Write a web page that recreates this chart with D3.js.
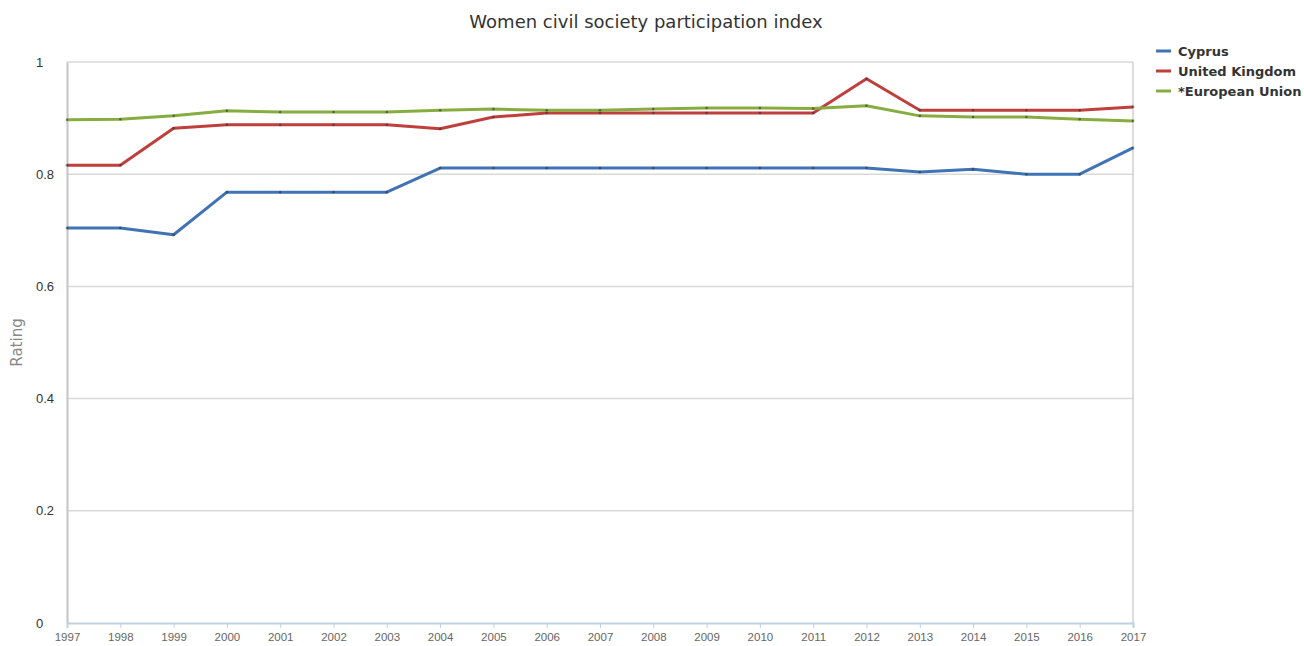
<!DOCTYPE html>
<html>
<head>
<meta charset="utf-8">
<script src="https://cdn.jsdelivr.net/npm/d3@7"></script>
<style>
  body { margin: 0; background: #fff; }
  svg { font-family: "DejaVu Sans", "Open Sans", sans-serif; }
</style>
</head>
<body>
<div id="chart"></div>
<script>
// Data
var years = [1997, 1998, 1999, 2000, 2001, 2002, 2003, 2004, 2005, 2006, 2007,
             2008, 2009, 2010, 2011, 2012, 2013, 2014, 2015, 2016, 2017];
var cyprus = [0.704, 0.704, 0.692, 0.768, 0.768, 0.768, 0.768, 0.811, 0.811, 0.811, 0.811,
              0.811, 0.811, 0.811, 0.811, 0.811, 0.804, 0.809, 0.800, 0.800, 0.847];
var unitedKingdom = [0.816, 0.816, 0.882, 0.888, 0.888, 0.888, 0.888, 0.881, 0.902, 0.909, 0.909,
                     0.909, 0.909, 0.909, 0.909, 0.970, 0.914, 0.914, 0.914, 0.914, 0.920];
var europeanUnion = [0.897, 0.898, 0.904, 0.913, 0.911, 0.911, 0.911, 0.914, 0.916, 0.914, 0.914,
                     0.916, 0.918, 0.918, 0.917, 0.922, 0.904, 0.902, 0.902, 0.898, 0.895];
var yTicks = [0, 0.2, 0.4, 0.6, 0.8, 1];

var seriesList = [
  { name: "Cyprus", values: cyprus, color: "#3f73b5" },
  { name: "United Kingdom", values: unitedKingdom, color: "#bf3f3c" },
  { name: "*European Union", values: europeanUnion, color: "#87ad41" }
];

var svgWidth = 1304;
var svgHeight = 646;
var margin = { top: 62, right: 171, bottom: 23, left: 67 };
var chartWidth = svgWidth - margin.left - margin.right;
var chartHeight = svgHeight - margin.top - margin.bottom;

var svg = d3.select("#chart")
  .append("svg")
  .attr("width", svgWidth)
  .attr("height", svgHeight);

var chartGroup = svg.append("g")
  .attr("transform", `translate(${margin.left}, ${margin.top})`);

var xScale = d3.scaleLinear()
  .domain(d3.extent(years))
  .range([0, chartWidth]);

var yScale = d3.scaleLinear()
  .domain([0, 1])
  .range([chartHeight, 0]);

// gridlines
chartGroup.selectAll(".grid")
  .data(yTicks.filter(d => d > 0))
  .enter()
  .append("line")
  .attr("x1", 0)
  .attr("x2", chartWidth)
  .attr("y1", d => yScale(d))
  .attr("y2", d => yScale(d))
  .attr("stroke", "#d9d9d9")
  .attr("stroke-width", 1.5);

// right border
chartGroup.append("line")
  .attr("x1", chartWidth).attr("x2", chartWidth)
  .attr("y1", 0).attr("y2", chartHeight)
  .attr("stroke", "#d0d0d0")
  .attr("stroke-width", 1.5);

// left axis
var leftAxis = d3.axisLeft(yScale).tickValues(yTicks).tickSize(0).tickPadding(11)
  .tickFormat(d => d3.format("")(d));
var yAxisG = chartGroup.append("g").call(leftAxis);
yAxisG.select(".domain").attr("stroke", "#c4c4c4").attr("stroke-width", 2);
yAxisG.selectAll("text")
  .attr("text-anchor", "start")
  .attr("x", -31)
  .attr("font-size", "13px")
  .attr("fill", "#333");

// bottom axis
var bottomAxis = d3.axisBottom(xScale).tickValues(years).tickFormat(d3.format("d"))
  .tickSize(5).tickPadding(5);
var xAxisG = chartGroup.append("g")
  .attr("transform", `translate(0, ${chartHeight})`)
  .call(bottomAxis);
xAxisG.select(".domain").attr("stroke", "#c0d0e0").attr("stroke-width", 2);
xAxisG.selectAll(".tick line").attr("stroke", "#c0d0e0");
xAxisG.selectAll("text")
  .attr("font-size", "11.5px")
  .attr("fill", "#666");

// axis title
svg.append("text")
  .attr("transform", `translate(22, ${margin.top + chartHeight / 2}) rotate(-90)`)
  .attr("text-anchor", "middle")
  .attr("font-size", "15px")
  .attr("fill", "#888")
  .text("Rating");

// chart title
svg.append("text")
  .attr("x", 646)
  .attr("y", 28)
  .attr("text-anchor", "middle")
  .attr("font-size", "18px")
  .attr("fill", "#333")
  .text("Women civil society participation index");

// lines
var line = d3.line()
  .x((d, i) => xScale(years[i]))
  .y(d => yScale(d));

seriesList.forEach(function(s) {
  chartGroup.append("path")
    .datum(s.values)
    .attr("fill", "none")
    .attr("stroke", s.color)
    .attr("stroke-width", 3)
    .attr("stroke-linejoin", "round")
    .attr("d", line);

  chartGroup.selectAll(null)
    .data(s.values)
    .enter()
    .append("circle")
    .attr("cx", (d, i) => xScale(years[i]))
    .attr("cy", d => yScale(d))
    .attr("r", 1.3)
    .attr("fill", "#333")
    .attr("opacity", 0.6);
});

// legend
var legend = svg.append("g")
  .attr("transform", "translate(1156, 51)");

var items = legend.selectAll("g")
  .data(seriesList)
  .enter()
  .append("g")
  .attr("transform", (d, i) => `translate(0, ${i * 20})`);

items.append("line")
  .attr("x1", 0).attr("x2", 15)
  .attr("y1", 0).attr("y2", 0)
  .attr("stroke", d => d.color)
  .attr("stroke-width", 3);

items.append("text")
  .attr("x", 22)
  .attr("y", 5)
  .attr("font-size", "13px")
  .attr("font-weight", "bold")
  .attr("fill", "#333")
  .text(d => d.name);
</script>
</body>
</html>
